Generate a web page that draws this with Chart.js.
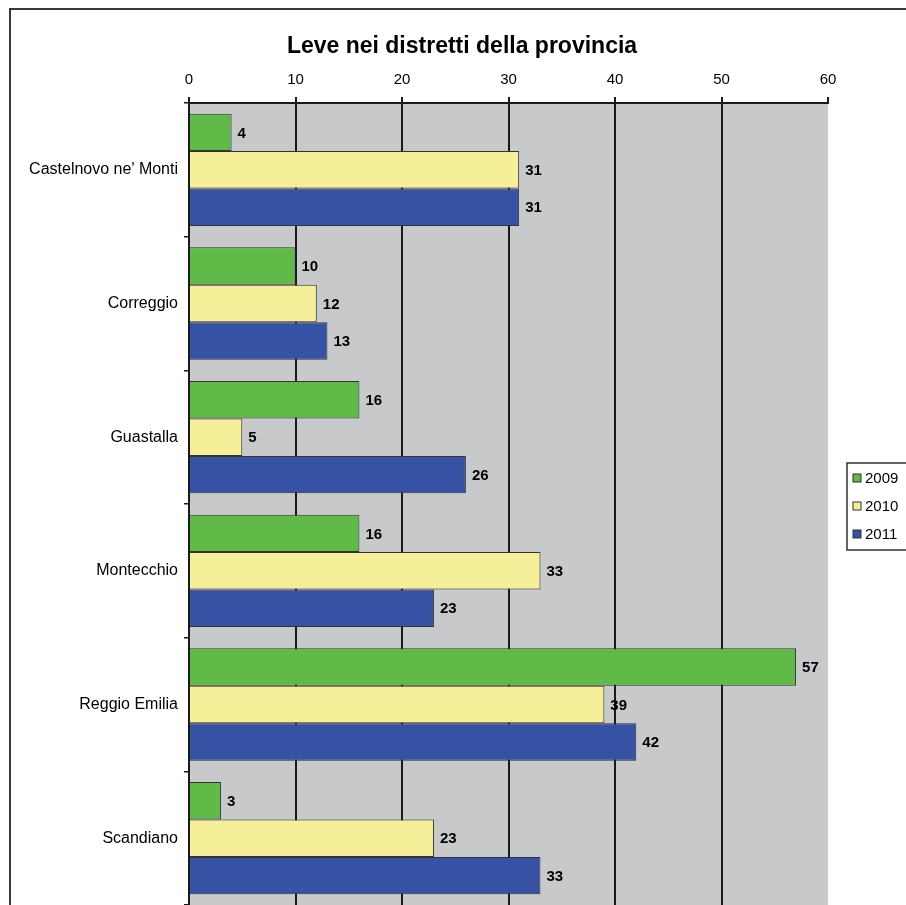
<!DOCTYPE html>
<html>
<head>
    <script src="https://cdn.jsdelivr.net/npm/chart.js"></script>
    <style>
        html, body { margin: 0; padding: 0; background: #fff; overflow: hidden; }
    </style>
</head>
<body>
    <canvas id="leveChart" width="906" height="905"></canvas>
    <script>
        const categories = ["Castelnovo ne' Monti", "Correggio", "Guastalla", "Montecchio", "Reggio Emilia", "Scandiano"];
        const years = ["2009", "2010", "2011"];
        const leve2009 = [4, 10, 16, 16, 57, 3];
        const leve2010 = [31, 12, 5, 33, 39, 23];
        const leve2011 = [31, 13, 26, 23, 42, 33];
        const xTicks = [0, 10, 20, 30, 40, 50, 60];
        const chartTitle = 'Leve nei distretti della provincia';

        const font = "'Liberation Sans', Arial, sans-serif";
        const colors = ['#5fba47', '#f5ef99', '#3652a4'];

        // gray plot area, outer frame and the title (centred on the whole frame)
        const background = {
            id: 'background',
            beforeDraw(chart) {
                const { ctx, chartArea: a } = chart;
                ctx.save();
                ctx.fillStyle = '#fff';
                ctx.fillRect(0, 0, chart.width, chart.height);
                ctx.strokeStyle = '#3a3a3a';
                ctx.lineWidth = 2;
                ctx.strokeRect(10, 9, chart.width + 50, chart.height + 50);
                ctx.fillStyle = '#c8c9cb';
                ctx.fillRect(a.left, a.top, a.right - a.left, a.bottom - a.top);
                ctx.fillStyle = '#000';
                ctx.font = 'bold 23px ' + font;
                ctx.textAlign = 'center';
                ctx.textBaseline = 'middle';
                ctx.fillText(chartTitle, 462, 47);
                ctx.restore();
            }
        };

        // numbers at the end of each bar
        const barValues = {
            id: 'barValues',
            afterDatasetsDraw(chart) {
                const ctx = chart.ctx;
                ctx.save();
                ctx.font = 'bold 15px ' + font;
                ctx.fillStyle = '#000';
                ctx.textBaseline = 'middle';
                ctx.textAlign = 'left';
                chart.data.datasets.forEach((ds, i) => {
                    chart.getDatasetMeta(i).data.forEach((bar, j) => {
                        ctx.fillText(ds.data[j], bar.x + 6, bar.y + 1);
                    });
                });
                ctx.restore();
            }
        };

        // boxed legend on the right, cut by the page edge like the original
        const sideLegend = {
            id: 'sideLegend',
            afterDraw(chart) {
                const ctx = chart.ctx;
                const x = 847, y = 463, h = 87;
                ctx.save();
                ctx.strokeStyle = '#333';
                ctx.lineWidth = 1.5;
                ctx.strokeRect(x, y, 120, h);
                ctx.font = '15px ' + font;
                ctx.textBaseline = 'middle';
                chart.data.datasets.forEach((ds, i) => {
                    const cy = y + 15 + i * 28;
                    ctx.fillStyle = ds.backgroundColor;
                    ctx.fillRect(x + 6, cy - 4, 8, 8);
                    ctx.strokeStyle = '#333';
                    ctx.lineWidth = 1;
                    ctx.strokeRect(x + 6, cy - 4, 8, 8);
                    ctx.fillStyle = '#000';
                    ctx.fillText(ds.label, x + 18, cy + 1);
                });
                ctx.restore();
            }
        };

        const ctx = document.getElementById('leveChart').getContext('2d');
        const leveChart = new Chart(ctx, {
            type: 'bar',
            data: {
                labels: categories,
                datasets: [
                    { label: years[0], data: leve2009, backgroundColor: colors[0] },
                    { label: years[1], data: leve2010, backgroundColor: colors[1] },
                    { label: years[2], data: leve2011, backgroundColor: colors[2] }
                ].map(d => Object.assign(d, {
                    borderColor: '#333',
                    borderWidth: 1,
                    categoryPercentage: 0.84,
                    barPercentage: 1.0
                }))
            },
            plugins: [background, barValues, sideLegend],
            options: {
                indexAxis: 'y',
                responsive: false,
                animation: false,
                devicePixelRatio: 1,
                layout: { padding: { left: 10, right: 78, top: 62, bottom: 0 } },
                plugins: {
                    legend: { display: false },
                    tooltip: { enabled: false },
                    title: { display: false }
                },
                scales: {
                    x: {
                        position: 'top',
                        min: 0,
                        max: 60,
                        afterBuildTicks: s => { s.ticks = xTicks.map(v => ({ value: v })); },
                        afterFit: s => { s.height = 41; },
                        ticks: {
                            color: '#000',
                            padding: 8,
                            font: { family: font, size: 15 }
                        },
                        grid: {
                            color: c => c.index === xTicks.length - 1 ? 'rgba(0,0,0,0)' : '#1a1a1a',
                            tickColor: '#1a1a1a',
                            lineWidth: 2,
                            tickLength: 6
                        },
                        border: { display: true, color: '#1a1a1a', width: 2 }
                    },
                    y: {
                        afterFit: s => {
                            s.width = 179;
                            s.paddingTop = 0;
                            s.paddingBottom = 0;
                        },
                        ticks: {
                            color: '#000',
                            padding: 6,
                            font: { family: font, size: 16 }
                        },
                        grid: {
                            offset: true,
                            drawOnChartArea: false,
                            color: '#1a1a1a',
                            lineWidth: 1.5,
                            tickLength: 5
                        },
                        border: { display: true, color: '#1a1a1a', width: 2 }
                    }
                }
            }
        });
    </script>
</body>
</html>
